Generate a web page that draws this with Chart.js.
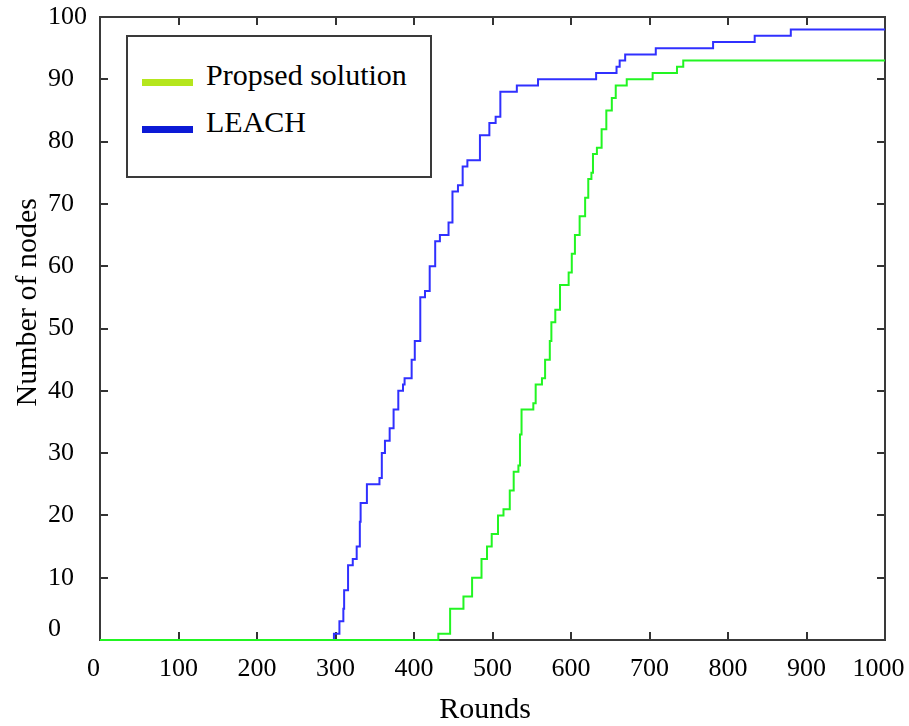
<!DOCTYPE html>
<html>
<head>
<meta charset="utf-8">
<script src="https://cdn.jsdelivr.net/npm/chart.js@4/dist/chart.umd.min.js"></script>
<style>
  html, body { margin: 0; padding: 0; background: #fff; }
  #wrap { position: relative; width: 909px; height: 726px; }
  #legend { position: absolute; left: 126px; top: 35px; width: 306px; height: 143px; box-sizing: border-box;
            border: 2px solid #3a3a3a; background: #fff; font-family: "Liberation Serif", serif; }
  .lg-line { position: absolute; left: 14px; width: 51px; height: 7px; }
  .lg-text { position: absolute; left: 78px; font-size: 30px; line-height: 30px; color: #000; white-space: nowrap; }
</style>
</head>
<body>
<div id="wrap">
  <canvas id="c" width="909" height="726"></canvas>
  <div id="legend"></div>
</div>
<script>
// ---- data ----
const seriesNames = ['Propsed solution', 'LEACH'];
const xTitle = 'Rounds';
const yTitle = 'Number of nodes';

const propRounds = [0, 431, 446, 463, 474, 486, 493, 499, 507, 514, 522, 527, 533, 535, 537, 552, 555, 563, 567, 573,
                    575, 580, 586, 597, 601, 605, 611, 618, 622, 626, 628, 633, 639, 645, 652, 657, 671, 704, 735, 743, 1000];
const propNodes  = [0, 1, 5, 7, 10, 13, 15, 17, 20, 21, 24, 27, 28, 33, 37, 38, 41, 42, 45, 48,
                    51, 53, 57, 59, 62, 65, 68, 71, 74, 75, 78, 79, 82, 85, 87, 89, 90, 91, 92, 93, 93];

const leachRounds = [0, 298, 305, 310, 311, 316, 322, 327, 331, 332, 340, 356, 359, 363, 369, 374, 380, 386, 388, 397,
                     401, 408, 414, 420, 427, 433, 444, 449, 456, 462, 468, 484, 496, 504, 510, 531, 558, 632, 658, 662,
                     669, 708, 781, 834, 880, 1000];
const leachNodes  = [0, 1, 3, 5, 8, 12, 13, 15, 19, 22, 25, 26, 30, 32, 34, 37, 40, 41, 42, 45,
                     48, 55, 56, 60, 64, 65, 67, 72, 73, 76, 77, 81, 83, 84, 88, 89, 90, 91, 92, 93,
                     94, 95, 96, 97, 98, 98];

const xTicksMin = 0, xTicksMax = 1000, xStep = 100;
const yTicksMin = 0, yTicksMax = 100, yStep = 10;

// ---- styles ----
const lineColors = ['rgb(34,245,34)', 'rgb(48,48,255)'];
const legendColors = ['rgb(181,230,29)', 'rgb(12,26,214)'];
const FONT = '"Liberation Serif", "Times New Roman", serif';

const toXY = (xs, ys) => xs.map((x, i) => ({ x: x, y: ys[i] }));

const frame = {
  id: 'frame',
  beforeDatasetsDraw(chart) {
    const { ctx, chartArea: a, scales: { x, y } } = chart;
    ctx.save();
    ctx.strokeStyle = '#333';
    ctx.lineWidth = 2;
    const tl = 8;
    ctx.beginPath();
    x.ticks.forEach(t => {
      const px = Math.round(x.getPixelForValue(t.value));
      ctx.moveTo(px, a.bottom); ctx.lineTo(px, a.bottom - tl);
      ctx.moveTo(px, a.top); ctx.lineTo(px, a.top + tl);
    });
    y.ticks.forEach(t => {
      const py = Math.round(y.getPixelForValue(t.value));
      ctx.moveTo(a.left, py); ctx.lineTo(a.left + tl, py);
      ctx.moveTo(a.right, py); ctx.lineTo(a.right - tl, py);
    });
    ctx.stroke();
    ctx.strokeStyle = '#3a3a3a';
    ctx.strokeRect(a.left, a.top, a.right - a.left, a.bottom - a.top);
    ctx.restore();
  }
};

const chart = new Chart(document.getElementById('c'), {
  type: 'line',
  data: {
    datasets: [
      { label: seriesNames[0], data: toXY(propRounds, propNodes), borderColor: lineColors[0], backgroundColor: legendColors[0],
        borderWidth: 2, pointRadius: 0, stepped: true, fill: false, clip: false },
      { label: seriesNames[1], data: toXY(leachRounds, leachNodes), borderColor: lineColors[1], backgroundColor: legendColors[1],
        borderWidth: 2, pointRadius: 0, stepped: true, fill: false, clip: false }
    ]
  },
  options: {
    responsive: false,
    devicePixelRatio: 1,
    animation: false,
    layout: { autoPadding: false, padding: { top: 17, right: 24, left: 48, bottom: 0 } },
    plugins: { legend: { display: false }, tooltip: { enabled: false } },
    scales: {
      x: {
        type: 'linear', min: xTicksMin, max: xTicksMax,
        grid: { display: false, drawTicks: false },
        border: { display: false },
        ticks: {
          stepSize: xStep, autoSkip: false, maxRotation: 0, padding: 14, color: '#000',
          font: { family: FONT, size: 26 },
          callback: v => v === xTicksMin ? v + '  ' : (v === xTicksMax ? v + '  ' : String(v))
        },
        title: { display: true, text: xTitle + '  ', color: '#000', font: { family: FONT, size: 30, lineHeight: 1 }, padding: { top: 0, bottom: 1 } },
        afterFit: s => { s.height = 86; s.paddingLeft = 0; s.paddingRight = 0; }
      },
      y: {
        min: yTicksMin, max: yTicksMax,
        grid: { display: false, drawTicks: false },
        border: { display: false },
        ticks: {
          stepSize: yStep, crossAlign: 'far', padding: 12, color: '#000',
          font: { family: FONT, size: 26, lineHeight: 0.85 },
          callback: v => v === 0 ? ['0', ''] : String(v)
        },
        title: { display: true, text: '       ' + yTitle, color: '#000', font: { family: FONT, size: 30, lineHeight: 1 }, padding: { top: -35, bottom: 0 } },
        afterFit: s => { s.width = 52; s.paddingTop = 0; s.paddingBottom = 0; }
      }
    }
  },
  plugins: [frame]
});

// legend box (built from the dataset names)
const lg = document.getElementById('legend');
const lineTops = [42, 89];
const textTops = [23, 70];
seriesNames.forEach((name, i) => {
  const ln = document.createElement('div');
  ln.className = 'lg-line';
  ln.style.top = lineTops[i] + 'px';
  ln.style.background = legendColors[i];
  lg.appendChild(ln);
  const tx = document.createElement('div');
  tx.className = 'lg-text';
  tx.style.top = textTops[i] + 'px';
  tx.textContent = name;
  lg.appendChild(tx);
});
</script>
</body>
</html>
